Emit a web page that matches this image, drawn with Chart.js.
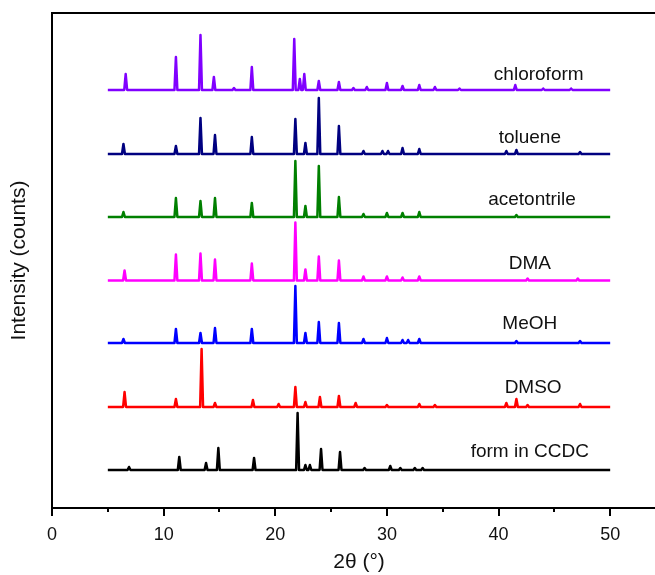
<!DOCTYPE html>
<html>
<head>
<meta charset="utf-8">
<title>PXRD patterns</title>
<script src="https://cdn.jsdelivr.net/npm/chart.js@4.4.0/dist/chart.umd.min.js"></script>
<style>
  html, body { margin: 0; padding: 0; background: #fff; overflow: hidden; }
  #wrap { width: 655px; height: 575px; overflow: hidden; }
  canvas { display: block; }
</style>
</head>
<body>
<div id="wrap"><canvas id="xrd" width="680" height="575"></canvas></div>
<script>
// Sample names, top to bottom
const sampleNames = ["chloroform", "toluene", "acetontrile", "DMA", "MeOH", "DMSO", "form in CCDC"];
const sampleColors = ["#8000ff", "#000080", "#008000", "#ff00ff", "#0000ff", "#ff0000", "#000000"];

// Vertical offset (counts) of each pattern's baseline
const baselines = [418, 354, 291, 227.5, 165, 101, 38];

// Label anchor for each pattern: 2θ and counts
const labelX = [43.6, 42.8, 43.0, 42.8, 42.8, 43.1, 42.8];
const labelY = [433, 370, 308, 244, 184, 120, 56];

// Peaks as [2θ, intensity above baseline]
const chloroformPeaks = [
  [6.6, 16], [11.1, 33], [13.3, 55], [14.5, 13], [16.3, 2], [17.9, 23],
  [21.7, 51], [22.2, 11], [22.6, 16], [23.9, 9], [25.7, 8], [27.0, 2],
  [28.2, 3], [30.0, 7], [31.4, 4], [32.9, 5], [34.3, 3], [36.5, 1.5],
  [41.5, 5], [44.0, 1.5], [46.5, 1.5]
];
const toluenePeaks = [
  [6.4, 10], [11.1, 8], [13.3, 36], [14.6, 19], [17.9, 17], [21.8, 35],
  [22.7, 11], [23.9, 56], [25.7, 28], [27.9, 3], [29.6, 3], [30.1, 3],
  [31.4, 6], [32.9, 5], [40.7, 3], [41.6, 4], [47.3, 2]
];
const acetonitrilePeaks = [
  [6.4, 5], [11.1, 19], [13.3, 16], [14.6, 19], [17.9, 14], [21.8, 56],
  [22.7, 11], [23.9, 51], [25.7, 20], [27.9, 3], [30.0, 4], [31.4, 4],
  [32.9, 5], [41.6, 2]
];
const dmaPeaks = [
  [6.5, 10], [11.1, 26], [13.3, 27], [14.6, 21], [17.9, 17], [21.8, 58],
  [22.7, 11], [23.9, 24], [25.7, 20], [27.9, 4], [30.0, 4], [31.4, 3],
  [32.9, 4], [42.6, 2], [47.1, 2]
];
const meohPeaks = [
  [6.4, 4], [11.1, 14], [13.3, 10], [14.6, 15], [17.9, 14], [21.8, 57],
  [22.7, 10], [23.9, 21], [25.7, 20], [27.9, 4], [30.0, 5], [31.4, 3],
  [31.9, 3], [32.9, 4], [41.6, 2], [47.3, 2]
];
const dmsoPeaks = [
  [6.5, 15], [11.1, 8], [13.4, 58], [14.6, 4], [18.0, 7], [20.3, 3],
  [21.8, 20], [22.7, 5], [24.0, 10], [25.7, 11], [27.2, 4], [30.0, 2],
  [32.9, 3], [34.3, 2], [40.7, 4], [41.6, 8], [42.6, 2], [47.3, 3]
];
const ccdcPeaks = [
  [6.9, 3], [11.4, 13], [13.8, 7], [14.9, 22], [18.1, 12], [22.0, 57],
  [22.7, 5], [23.1, 5], [24.1, 21], [25.8, 18], [28.0, 2], [30.3, 4],
  [31.2, 2], [32.5, 2], [33.2, 2]
];
const allPeaks = [chloroformPeaks, toluenePeaks, acetonitrilePeaks, dmaPeaks, meohPeaks, dmsoPeaks, ccdcPeaks];

// Scan range and axis ticks
const scanStart = 5;
const scanEnd = 50;
const xMajorTicks = [0, 10, 20, 30, 40, 50];
const xMinorTicks = [5, 15, 25, 35, 45];

// Each peak is drawn as a narrow spike sitting on the baseline
const PEAK_HALF_WIDTH = 0.13;

function buildPattern(peaks, base) {
  const pts = [{ x: scanStart, y: base }];
  peaks.forEach(function (p) {
    pts.push({ x: p[0] - PEAK_HALF_WIDTH, y: base });
    pts.push({ x: p[0], y: base + p[1] });
    pts.push({ x: p[0] + PEAK_HALF_WIDTH, y: base });
  });
  pts.push({ x: scanEnd, y: base });
  pts.sort(function (a, b) { return a.x - b.x; });
  return pts;
}

const datasets = sampleNames.map(function (name, i) {
  return {
    label: name,
    data: buildPattern(allPeaks[i], baselines[i]),
    borderColor: sampleColors[i],
    borderWidth: 2.5,
    borderJoinStyle: "round",
    pointRadius: 0,
    tension: 0,
    fill: false
  };
});

// Frame, outward ticks and sample labels
const decorations = {
  id: "decorations",
  afterDraw: function (chart) {
    const ctx = chart.ctx;
    const area = chart.chartArea;
    const xs = chart.scales.x;
    const ys = chart.scales.y;
    ctx.save();
    ctx.strokeStyle = "#000";
    ctx.lineWidth = 2;
    ctx.strokeRect(area.left, area.top, area.right - area.left, area.bottom - area.top);

    ctx.lineWidth = 2;
    ctx.beginPath();
    xMajorTicks.forEach(function (v) {
      const px = Math.round(xs.getPixelForValue(v));
      ctx.moveTo(px, area.bottom);
      ctx.lineTo(px, area.bottom + 8);
    });
    xMinorTicks.forEach(function (v) {
      const px = Math.round(xs.getPixelForValue(v));
      ctx.moveTo(px, area.bottom);
      ctx.lineTo(px, area.bottom + 4);
    });
    ctx.stroke();

    ctx.fillStyle = "#111";
    ctx.font = "19px Arial, 'Liberation Sans', sans-serif";
    ctx.textAlign = "center";
    ctx.textBaseline = "middle";
    sampleNames.forEach(function (name, i) {
      ctx.fillText(name, xs.getPixelForValue(labelX[i]), ys.getPixelForValue(labelY[i]));
    });
    ctx.restore();
  }
};

Chart.defaults.font.family = "Arial, 'Liberation Sans', sans-serif";
Chart.defaults.color = "#111";

new Chart(document.getElementById("xrd"), {
  type: "line",
  data: { datasets: datasets },
  plugins: [decorations],
  options: {
    responsive: false,
    animation: false,
    layout: { padding: { top: 13, right: 14, left: 0, bottom: 0 } },
    plugins: {
      legend: { display: false },
      tooltip: { enabled: false }
    },
    scales: {
      x: {
        type: "linear",
        min: 0,
        max: 55,
        afterFit: function (s) { s.height = 67; },
        afterBuildTicks: function (s) {
          s.ticks = xMajorTicks.map(function (v) { return { value: v }; });
        },
        grid: { display: false, drawTicks: false },
        border: { display: false },
        ticks: {
          padding: 16,
          maxRotation: 0,
          font: { size: 18 },
          color: "#111"
        },
        title: {
          display: true,
          text: "2θ (°)",
          font: { size: 21 },
          color: "#111",
          padding: { top: 0, bottom: 0 }
        }
      },
      y: {
        min: 0,
        max: 495,
        afterFit: function (s) { s.width = 52; },
        grid: { display: false, drawTicks: false },
        border: { display: false },
        ticks: { display: false },
        title: {
          display: true,
          text: "Intensity (counts)",
          font: { size: 21 },
          color: "#111",
          padding: { top: 7, bottom: 0 }
        }
      }
    }
  }
});
</script>
</body>
</html>
